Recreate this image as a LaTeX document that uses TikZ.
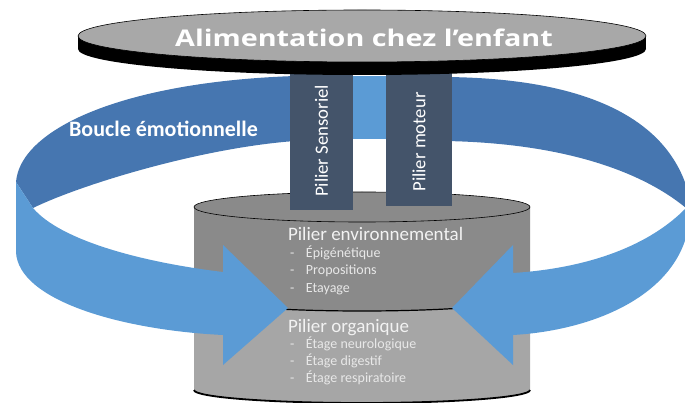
\documentclass[tikz,border=0pt]{standalone}
\usepackage{fontspec}
\setmainfont{Carlito}
\newfontfamily\titlefont{Open Sans}
\definecolor{bandDark}{RGB}{70,118,176}
\definecolor{bandLight}{RGB}{91,155,213}
\definecolor{pillarCol}{RGB}{68,84,106}
\definecolor{cylTop}{RGB}{138,138,138}
\definecolor{cylUp}{RGB}{138,138,138}
\definecolor{cylLow}{RGB}{166,166,166}
\definecolor{discFace}{RGB}{168,168,168}
\definecolor{txtCol}{RGB}{242,242,242}
\definecolor{itemCol}{RGB}{232,232,232}
\begin{document}
\begin{tikzpicture}[x=1pt,y=-1pt,
  every node/.style={inner sep=0pt, outer sep=0pt},
  pillarbox/.style={fill=pillarCol, draw=none},
  pillartext/.style={text=white, font=\fontsize{18.7}{20}\selectfont, rotate=90},
  heading/.style={text=txtCol, font=\fontsize{19}{21}\selectfont, anchor=base west},
  item/.style={text=itemCol, font=\fontsize{14}{16}\selectfont, anchor=base west},
  looptext/.style={text=white, font=\fontsize{22}{24}\selectfont\bfseries, anchor=base},
  titletext/.style={text=white, font=\titlefont\fontsize{23}{25}\selectfont\bfseries, anchor=base}]
\useasboundingbox (0,0) rectangle (685,403);
\clip (0,0) rectangle (685,403);
% ---- cylinder ----
\fill[cylLow] (194,296) -- (194,390) arc[start angle=180,end angle=360,x radius=168pt,y radius=13pt] -- (530,296) -- cycle;
\draw[line width=1.8pt] (194,390) arc[start angle=180,end angle=360,x radius=168pt,y radius=13pt];
\fill[cylUp] (194,207) -- (194,296) arc[start angle=180,end angle=360,x radius=168pt,y radius=15pt] -- (530,207) -- cycle;
\draw[line width=1.2pt] (194,296) arc[start angle=180,end angle=360,x radius=168pt,y radius=15pt];
\filldraw[fill=cylTop, draw=black, line width=0.6pt] (362,207) ellipse[x radius=168pt, y radius=15pt];
% ---- back (dark) parts of the loop ----
\fill[bandDark] (295,76) -- (295,141) .. controls (200,148) and (80,185) .. (33,208) -- (16,182) .. controls (20,130) and (120,82) .. (295,76) -- cycle;
\fill[bandDark] (445,77) -- (445,141) .. controls (560,143) and (640,170) .. (686,208) -- (690,208) -- (690,185) -- (686,185) .. controls (660,110) and (570,78) .. (445,77) -- cycle;
\fill[bandLight] (348,76) rectangle (388,139);
% ---- pillars ----
\fill[pillarbox] (290,66) rectangle (353,210);
\fill[pillarbox] (386,66) rectangle (452,206);
\node[pillartext] (sens) at (321.5,141) {Pilier Sensoriel};
\node[pillartext] (mot) at (419,142) {Pilier moteur};
% ---- top disc ----
\fill[black] (362,49) ellipse[x radius=284pt, y radius=26pt];
\fill[black] (78,36) rectangle (646,49);
\filldraw[fill=discFace, draw=black, line width=0.6pt] (362,36) ellipse[x radius=284pt, y radius=26pt];
\node[titletext] (title) at (364,47) {\scalebox{1.25}[1]{Alimentation chez l’enfant}};
% ---- front (light) arrows ----
\fill[bandLight] (16,182) -- (16,252) .. controls (18,300) and (120,330) .. (223,335) -- (223,365) -- (288,308) -- (223,245) -- (223,272) .. controls (140,262) and (60,240) .. (33,208) -- cycle;
\fill[bandLight] (686,208) -- (690,212) .. controls (688,290) and (600,330) .. (513,335) -- (513,365) -- (452,308) -- (513,245) -- (513,273) .. controls (590,268) and (650,245) .. (686,208) -- cycle;
\node[looptext] (loop) at (163.5,137) {Boucle émotionnelle};
% ---- cylinder texts ----
\node[heading] (env) at (288,241) {Pilier environnemental};
\node[item] (e1) at (290,258) {\makebox[16pt][l]{-}Épigénétique};
\node[item] (e2) at (290,275) {\makebox[16pt][l]{-}Propositions};
\node[item] (e3) at (290,292) {\makebox[16pt][l]{-}Etayage};
\node[heading] (org) at (288,332) {Pilier organique};
\node[item] (o1) at (290,348) {\makebox[16pt][l]{-}Étage neurologique};
\node[item] (o2) at (290,365) {\makebox[16pt][l]{-}Étage digestif};
\node[item] (o3) at (290,382) {\makebox[16pt][l]{-}Étage respiratoire};
\end{tikzpicture}
\end{document}
